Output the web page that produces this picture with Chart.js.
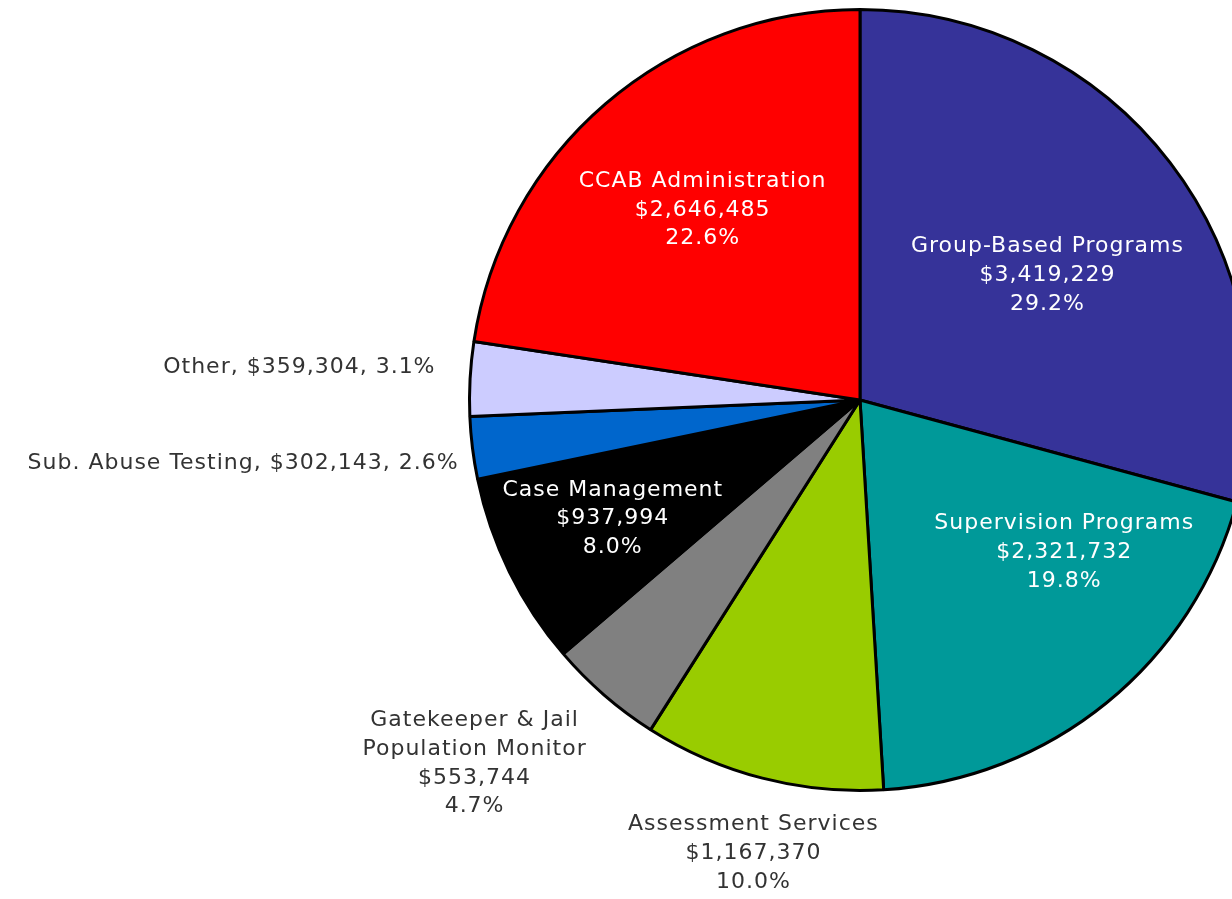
<!DOCTYPE html>
<html>
<head>
<meta charset="utf-8">
<title>CCAB Budget Allocation</title>
<script src="https://cdn.jsdelivr.net/npm/chart.js@4/dist/chart.umd.min.js"></script>
<style>
  html, body { margin: 0; padding: 0; background: #fff; overflow: hidden; }
  #wrap { width: 1232px; height: 899px; overflow: hidden; }
  canvas { display: block; }
</style>
</head>
<body>
<div id="wrap"><canvas id="budget-chart" width="1300" height="899"></canvas></div>
<script>
const categories = [
  ['Group-Based Programs'],
  ['Supervision Programs'],
  ['Assessment Services'],
  ['Gatekeeper & Jail', 'Population Monitor'],
  ['Case Management'],
  ['Sub. Abuse Testing'],
  ['Other'],
  ['CCAB Administration'],
];
const amounts = [3419229, 2321732, 1167370, 553744, 937994, 302143, 359304, 2646485];
const percents = ['29.2%', '19.8%', '10.0%', '4.7%', '8.0%', '2.6%', '3.1%', '22.6%'];

const sliceColors = ['#363399', '#009999', '#99CC00', '#808080', '#000000', '#0066CC', '#CCCCFF', '#FF0000'];

// label placement relative to pie centre, in units of the outer radius
// inline labels are one line ("name, $x, y%"), others are stacked
const labelLayout = [
  { dx: 0.480, dy: -0.319, color: '#fff', inline: false, align: 'center' },
  { dx: 0.523, dy: 0.390, color: '#fff', inline: false, align: 'center' },
  { dx: -0.273, dy: 1.161, color: '#333', inline: false, align: 'center' },
  { dx: -0.987, dy: 0.931, color: '#333', inline: false, align: 'center' },
  { dx: -0.633, dy: 0.304, color: '#fff', inline: false, align: 'center' },
  { dx: -1.028, dy: 0.161, color: '#333', inline: true, align: 'right' },
  { dx: -1.087, dy: -0.084, color: '#333', inline: true, align: 'right' },
  { dx: -0.403, dy: -0.487, color: '#fff', inline: false, align: 'center' },
];

const fmtMoney = (v) => '$' + v.toLocaleString('en-US');

const sliceLabels = {
  id: 'sliceLabels',
  afterDatasetsDraw(chart) {
    const { ctx } = chart;
    const meta = chart.getDatasetMeta(0);
    ctx.save();
    ctx.font = '22px "DejaVu Sans", Verdana, sans-serif';
    ctx.letterSpacing = '1px';
    ctx.textBaseline = 'middle';
    meta.data.forEach((arc, i) => {
      const layout = labelLayout[i];
      const cx = arc.x + layout.dx * arc.outerRadius;
      const cy = arc.y + layout.dy * arc.outerRadius;
      const lines = layout.inline
        ? [categories[i].join(' ') + ', ' + fmtMoney(amounts[i]) + ', ' + percents[i]]
        : [...categories[i], fmtMoney(amounts[i]), percents[i]];
      const lineH = 28.7;
      const top = cy - (lines.length - 1) * lineH / 2;
      ctx.fillStyle = layout.color;
      ctx.textAlign = layout.align;
      lines.forEach((line, k) => ctx.fillText(line, cx, top + k * lineH));
    });
    ctx.restore();
  },
};

new Chart(document.getElementById('budget-chart'), {
  type: 'pie',
  data: {
    labels: categories.map((c) => c.join(' ')),
    datasets: [{
      data: amounts,
      backgroundColor: sliceColors,
      borderColor: '#000',
      borderWidth: 3,
    }],
  },
  options: {
    responsive: false,
    animation: false,
    layout: { padding: { left: 468, right: 48, top: 8, bottom: 107 } },
    plugins: {
      legend: { display: false },
      tooltip: { enabled: false },
    },
  },
  plugins: [sliceLabels],
});
</script>
</body>
</html>
